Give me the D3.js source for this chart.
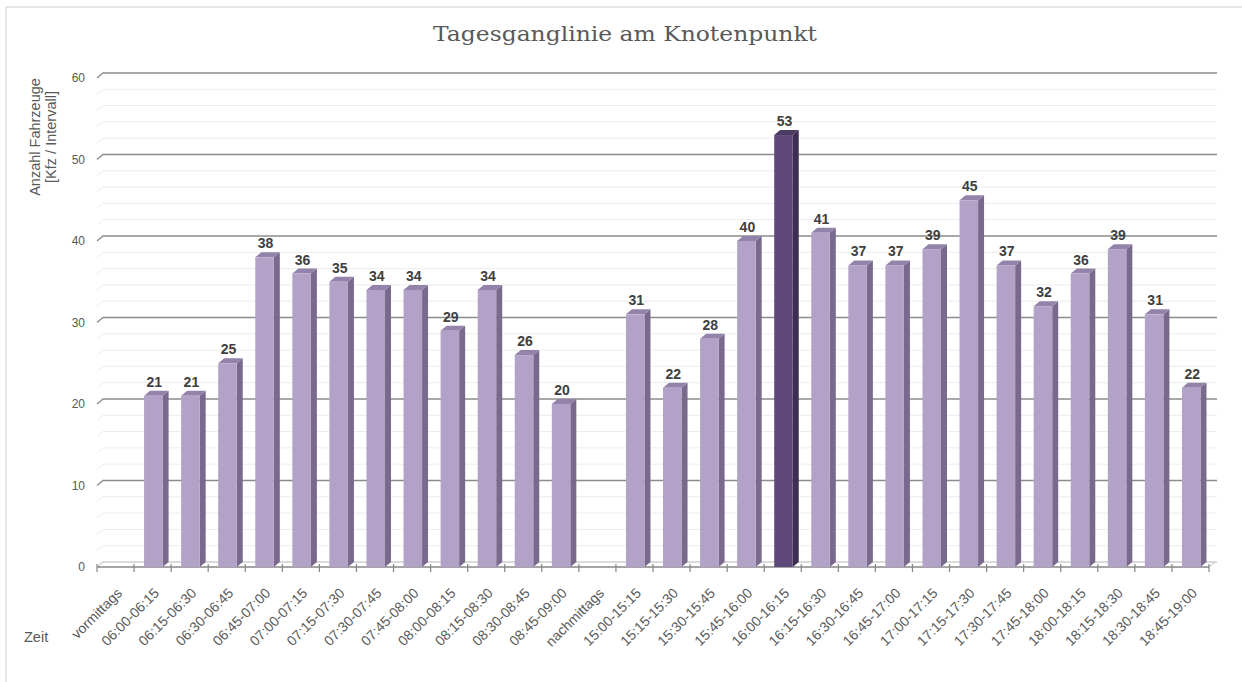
<!DOCTYPE html>
<html><head><meta charset="utf-8">
<script src="https://cdn.jsdelivr.net/npm/d3@7"></script>
<style>body{margin:0;background:#fff}svg{display:block}</style>
</head><body>
<svg id="c" width="1242" height="682"></svg>
<script>
const categories = ["vormittags","06:00-06:15","06:15-06:30","06:30-06:45","06:45-07:00","07:00-07:15","07:15-07:30","07:30-07:45","07:45-08:00","08:00-08:15","08:15-08:30","08:30-08:45","08:45-09:00","nachmittags","15:00-15:15","15:15-15:30","15:30-15:45","15:45-16:00","16:00-16:15","16:15-16:30","16:30-16:45","16:45-17:00","17:00-17:15","17:15-17:30","17:30-17:45","17:45-18:00","18:00-18:15","18:15-18:30","18:30-18:45","18:45-19:00"];
const values = [null,21,21,25,38,36,35,34,34,29,34,26,20,null,31,22,28,40,53,41,37,37,39,45,37,32,36,39,31,22];
const highlight = ["16:00-16:15"];
const yTicks = [0,10,20,30,40,50,60];
const yMinor = [2,4,6,8,12,14,16,18,22,24,26,28,32,34,36,38,42,44,46,48,52,54,56,58];
const title = "Tagesganglinie am Knotenpunkt";
const yTitle = ["Anzahl Fahrzeuge","[Kfz / Intervall]"];
const xTitle = "Zeit";

const svg = d3.select("#c");
const DX = 6, DY = 5;
const x = d3.scaleBand().domain(categories).range([97, 1209]).padding(0);
const yB = d3.scaleLinear().domain([0, 60]).range([562, 73]); // back wall
const yF = v => yB(v) + DY; // front plane
const font = "'Liberation Sans', Arial, sans-serif";

// border
svg.append("rect").attr("x",6).attr("y",7).attr("width",1250).attr("height",700)
  .attr("fill","none").attr("stroke","#d9d9d9").attr("stroke-width",1.2);

// title
svg.append("text").attr("x",625).attr("y",41).attr("text-anchor","middle")
  .attr("font-family","'DejaVu Serif',serif").attr("font-size",21)
  .attr("fill","#595959").attr("textLength",384).attr("lengthAdjust","spacingAndGlyphs").text(title);

// gridlines
const gl = svg.append("g");
yMinor.forEach(v => {
  gl.append("polyline").attr("points",`${97},${yF(v)} ${97+DX},${yB(v)} ${1217},${yB(v)}`)
    .attr("fill","none").attr("stroke","#ececec").attr("stroke-width",1);
});
yTicks.forEach(v => {
  gl.append("polyline").attr("points",`${97},${yF(v)} ${97+DX},${yB(v)} ${1217},${yB(v)}`)
    .attr("fill","none").attr("stroke", v===0 ? "#d0d0d0" : "#8c8c8c").attr("stroke-width",1.3);
});
gl.append("line").attr("x1",1209).attr("y1",yF(0)).attr("x2",1209+DX).attr("y2",yB(0)).attr("stroke","#bdbdbd");

// y tick labels
svg.append("g").selectAll("text").data(yTicks).join("text")
  .attr("x",85).attr("y",d=>yF(d)).attr("dy","0.35em").attr("text-anchor","end")
  .attr("font-family",font).attr("font-size",12).attr("fill","#595959").text(d=>d);

// x axis front line & ticks
const ax = svg.append("g");
ax.append("line").attr("x1",97).attr("x2",1209).attr("y1",yF(0)).attr("y2",yF(0)).attr("stroke","#868686").attr("stroke-width",1.3);
const bounds = categories.map(c=>x(c)).concat([x(categories[categories.length-1])+x.bandwidth()]);
ax.selectAll("line.t").data(bounds).join("line").attr("class","t")
  .attr("x1",d=>d).attr("x2",d=>d).attr("y1",yF(0)-3).attr("y2",yF(0)+5)
  .attr("stroke","#868686").attr("stroke-width",1.2);

// bars
const bw = x.bandwidth();
const bars = svg.append("g");
categories.forEach((c,i) => {
  const v = values[i];
  if (v == null) return;
  const hi = highlight.includes(c);
  const x0 = x(c) + bw*0.27, w = bw*0.5;
  const top = yF(v), bot = yF(0);
  const front = hi ? "#5f497a" : "#b2a2c8";
  const side = hi ? "#3d2f50" : "#78698d";
  const topc = hi ? "#4c3a63" : "#9383ab";
  bars.append("polygon").attr("points",`${x0+w},${top} ${x0+w+DX},${top-DY} ${x0+w+DX},${bot-DY} ${x0+w},${bot}`).attr("fill",side);
  bars.append("polygon").attr("points",`${x0},${top} ${x0+DX},${top-DY} ${x0+w+DX},${top-DY} ${x0+w},${top}`).attr("fill",topc);
  bars.append("rect").attr("x",x0).attr("y",top).attr("width",w).attr("height",bot-top).attr("fill",front);
  bars.append("text").attr("x",x0+w/2+1).attr("y",top-9).attr("text-anchor","middle")
    .attr("font-family",font).attr("font-weight","bold").attr("font-size",14).attr("fill","#404040").text(v);
});

// x labels
svg.append("g").selectAll("text").data(categories).join("text")
  .attr("transform",c=>`translate(${x(c)+bw/2+7.5},${yF(0)+27}) rotate(-45)`)
  .attr("text-anchor","end").attr("font-family",font).attr("font-size",14).attr("fill","#595959").text(c=>c);

// axis titles
svg.append("text").attr("x",24).attr("y",642).attr("font-family",font).attr("font-size",14.5).attr("fill","#595959").text(xTitle);
const yt = svg.append("text").attr("transform","translate(40,137) rotate(-90)").attr("text-anchor","middle")
  .attr("font-family",font).attr("font-size",14.5).attr("fill","#595959");
yTitle.forEach((t,i)=> yt.append("tspan").attr("x",0).attr("dy", i===0 ? 0 : 16).text(t));
</script>
</body></html>
